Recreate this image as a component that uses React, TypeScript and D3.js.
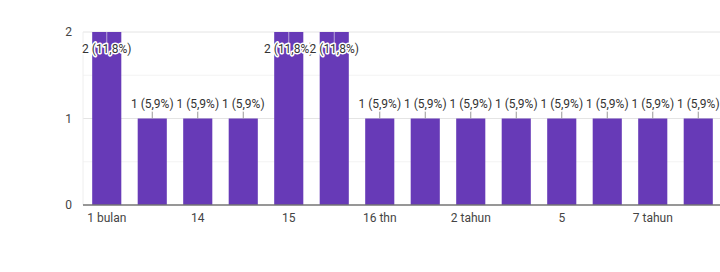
import React from "react";
import * as d3 from "d3";

const categories = ["1 bulan", "10", "14", "14 thn", "15", "15 thn", "16 thn", "17", "2 tahun", "3 tahun", "5", "6 tahun", "7 tahun", "8 tahun"];
const counts = [2, 1, 1, 1, 2, 2, 1, 1, 1, 1, 1, 1, 1, 1];
const yTicks = [0, 1, 2];
const minorTicks = [0.5, 1.5];

const W = 720;
const H = 272;
const left = 83;
const right = 720;
const top = 32;
const bottom = 205;

export default function App() {
  const total = d3.sum(counts);
  const x = d3.scaleBand<string>().domain(categories).range([left + 1, right + 1]).paddingInner(0.36).paddingOuter(0.18);
  const y = d3.scaleLinear().domain([0, 2]).range([bottom, top]);
  const font = "Roboto, 'Noto Sans', sans-serif";
  const fmt = (v: number) => `${v} (${(v / total * 100).toFixed(1).replace(".", ",")}%)`;
  return (
    <svg width={W} height={H} style={{ position: "absolute", left: 0, top: 0, background: "#fff" }} fontFamily={font}>
      {minorTicks.map((t) => (
        <line key={"m" + t} x1={left} x2={right} y1={y(t)} y2={y(t)} stroke="#f3f3f3" strokeWidth={1} />
      ))}
      {yTicks.filter((t) => t > 0).map((t) => (
        <line key={"g" + t} x1={left} x2={right} y1={y(t)} y2={y(t)} stroke="#e4e4e4" strokeWidth={1} />
      ))}
      <line x1={left} x2={left} y1={top} y2={bottom} stroke="#eeeeee" strokeWidth={1} />
      {yTicks.map((t) => (
        <text key={"yt" + t} x={72} y={y(t)} dy="0.35em" textAnchor="end" fontSize={12} fill="#444">
          {t}
        </text>
      ))}
      {categories.map((c, i) => {
        const bx = x(c)!;
        const bw = x.bandwidth();
        const v = counts[i];
        const yt = y(v);
        const cx = bx + bw / 2;
        const inside = yt - 16 < top;
        const ly = inside ? top + 17 : yt - 15;
        return (
          <g key={c}>
            <rect x={bx} y={yt} width={bw} height={bottom - yt} fill="#673ab7" />
            {inside ? (
              <line x1={cx} x2={cx} y1={yt} y2={ly - 6} stroke="#b8a6d9" strokeWidth={1} />
            ) : (
              <line x1={cx} x2={cx} y1={ly + 6} y2={yt} stroke="#999" strokeWidth={1} />
            )}
            <text x={cx} y={ly} dy="0.35em" textAnchor="middle" fontSize={12} fill="#333"
              stroke="#fff" strokeWidth={3} strokeLinejoin="round" style={{ paintOrder: "stroke" }}>
              {fmt(v)}
            </text>
            {i % 2 === 0 && (
              <text x={cx} y={218} dy="0.35em" textAnchor="middle" fontSize={12} fill="#444">
                {c}
              </text>
            )}
          </g>
        );
      })}
      <line x1={left} x2={right} y1={bottom} y2={bottom} stroke="#757575" strokeWidth={1.5} />
    </svg>
  );
}
